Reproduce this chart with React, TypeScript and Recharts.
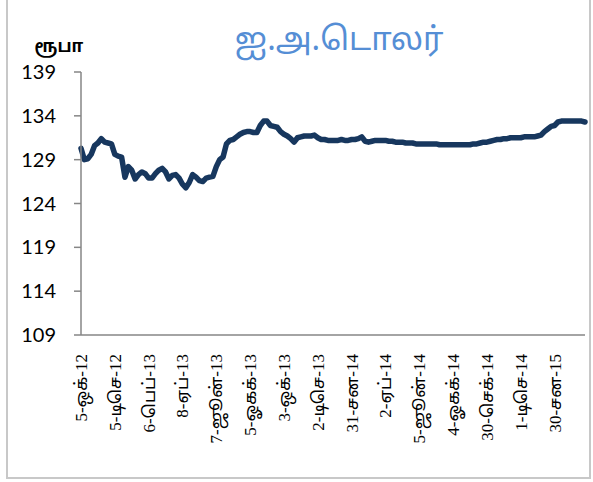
import React from 'react';
import { Line, LineChart, XAxis, YAxis } from 'recharts';

// LKR per USD, roughly every 3 trading days from 5 Oct 2012 to ~Mar 2015
const rate = [
  130.3, 129.0, 129.1, 129.6, 130.6, 130.9, 131.4, 131.0, 130.9, 130.8,
  129.6, 129.4, 129.3, 127.0, 128.2, 127.8, 126.8, 127.3, 127.6, 127.4,
  126.9, 126.9, 127.4, 127.8, 128.0, 127.6, 126.8, 127.2, 127.3, 126.9,
  126.2, 125.8, 126.4, 127.3, 127.0, 126.6, 126.5, 126.9, 127.0, 127.1,
  128.2, 129.0, 129.3, 130.8, 131.2, 131.3, 131.6, 131.9, 132.1, 132.2,
  132.2, 132.1, 132.1, 132.9, 133.4, 133.4, 132.9, 132.8, 132.7, 132.2,
  131.9, 131.7, 131.4, 131.0, 131.5, 131.6, 131.7, 131.7, 131.7, 131.8,
  131.5, 131.3, 131.3, 131.2, 131.2, 131.2, 131.2, 131.3, 131.2, 131.2,
  131.3, 131.3, 131.4, 131.6, 131.1, 131.0, 131.1, 131.2, 131.2, 131.2,
  131.2, 131.1, 131.1, 131.0, 131.0, 131.0, 130.9, 130.9, 130.9, 130.8,
  130.8, 130.8, 130.8, 130.8, 130.8, 130.8, 130.7, 130.7, 130.7, 130.7,
  130.7, 130.7, 130.7, 130.7, 130.7, 130.7, 130.8, 130.8, 130.9, 131.0,
  131.0, 131.1, 131.2, 131.3, 131.3, 131.4, 131.4, 131.5, 131.5, 131.5,
  131.5, 131.6, 131.6, 131.6, 131.6, 131.7, 131.8, 132.2, 132.5, 132.8,
  132.9, 133.3, 133.4, 133.4, 133.4, 133.4, 133.4, 133.4, 133.4, 133.3,
];

const dateLabels = [
  '5-ஒக்-12', '5-டிசெ-12', '6-பெப்-13', '8-ஏப்-13', '7-ஜூன்-13',
  '5-ஓகக்-13', '3-ஒக்-13', '2-டிசெ-13', '31-சன-14', '2-ஏப்-14',
  '5-ஜூன்-14', '4-ஓகக்-14', '30-செக்-14', '1-டிசெ-14', '30-சன-15',
];
const labelStep = 10;

const yTicks = [109, 114, 119, 124, 129, 134, 139];

const data = rate.map((v, i) => ({ i, rate: v }));
const xTicks = dateLabels.map((_, k) => k * labelStep);

const AXIS = '#868686';

const DateTick = ({ x, y, payload }: any) => {
  const label = dateLabels[Math.round(payload.value / labelStep)] ?? '';
  return (
    <g transform={`translate(${x},${y})`}>
      <text
        transform="rotate(-90)"
        x={-11}
        y={0}
        dy="0.35em"
        textAnchor="end"
        fill="#000"
        fontSize={17}
        fontFamily="'Liberation Serif', 'Noto Sans Tamil', serif"
      >
        {label}
      </text>
    </g>
  );
};

export default function App() {
  return (
    <div style={{ position: 'absolute', left: 0, top: 0, width: 593, height: 482, background: '#fff' }}>
      <div style={{ position: 'absolute', left: 6, top: 0, width: 2, height: 479, background: '#c8c8c8' }} />
      <div style={{ position: 'absolute', left: 6, top: 477, width: 585, height: 2, background: '#c8c8c8' }} />
      <div style={{ position: 'absolute', left: 589, top: 0, width: 2, height: 479, background: '#c8c8c8' }} />

      <div
        style={{
          position: 'absolute',
          left: 229,
          width: 220,
          top: 22,
          textAlign: 'center',
          color: '#558ED5',
          fontSize: 32,
          fontFamily: "'Noto Sans Tamil', Lato, sans-serif",
          lineHeight: '40px',
          whiteSpace: 'nowrap',
        }}
      >
        ஐ.அ.டொலர்
      </div>
      <div
        style={{
          position: 'absolute',
          left: 28,
          width: 62,
          top: 37,
          textAlign: 'center',
          color: '#000',
          fontSize: 17,
          fontWeight: 'bold',
          fontFamily: "'Noto Sans Tamil', Lato, sans-serif",
          lineHeight: '22px',
          whiteSpace: 'nowrap',
        }}
      >
        ரூபா
      </div>

      <div style={{ position: 'absolute', left: 0, top: 0 }}>
        <LineChart width={593} height={482} data={data} margin={{ top: 72, right: 8, bottom: 17, left: 0 }}>
          <XAxis
            dataKey="i"
            type="number"
            domain={[0, rate.length - 1]}
            ticks={xTicks}
            interval={0}
            height={130}
            tick={<DateTick />}
            tickLine={false}
            axisLine={{ stroke: AXIS, strokeWidth: 1.5 }}
          />
          <YAxis
            domain={[109, 139]}
            ticks={yTicks}
            interval={0}
            width={81}
            tickSize={7}
            tickMargin={18}
            tick={{ fill: '#000', fontSize: 20, fontFamily: 'Lato, sans-serif' }}
            axisLine={{ stroke: AXIS, strokeWidth: 1.5 }}
            tickLine={{ stroke: AXIS, strokeWidth: 1.5 }}
          />
          <Line
            type="linear"
            dataKey="rate"
            stroke="#17375E"
            strokeWidth={5.5}
            strokeLinejoin="round"
            strokeLinecap="round"
            dot={false}
            isAnimationActive={false}
          />
        </LineChart>
      </div>
    </div>
  );
}
